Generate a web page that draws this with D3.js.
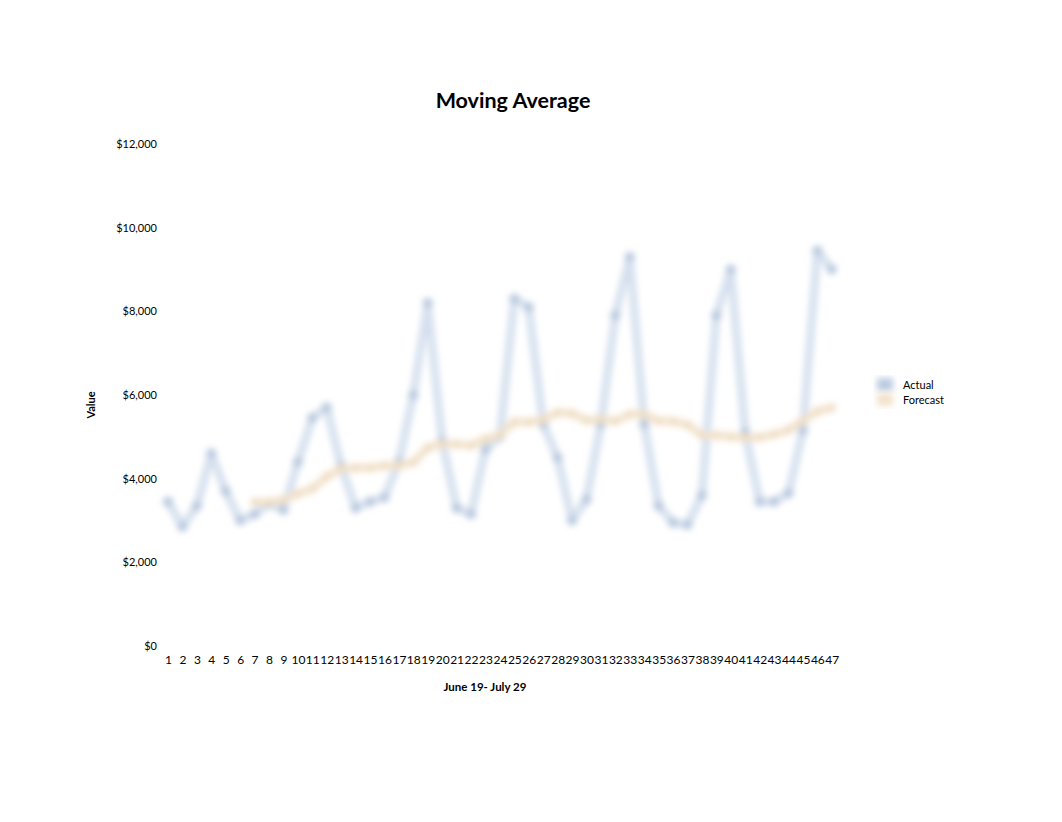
<!DOCTYPE html>
<html>
<head>
<meta charset="utf-8">
<script src="https://cdn.jsdelivr.net/npm/d3@7"></script>
<style>
  body { margin: 0; background: #fff; }
  text { font-family: Lato, "Open Sans", sans-serif; fill: #000; }
</style>
</head>
<body>
<svg id="chart" width="1062" height="822"></svg>
<script>
const categories = ["1","2","3","4","5","6","7","8","9","10","11","12","13","14","15","16","17","18","19","20","21","22","23","24","25","26","27","28","29","30","31","32","33","34","35","36","37","38","39","40","41","42","43","44","45","46","47"];
const actual = [3450,2850,3350,4600,3700,3000,3150,3400,3250,4400,5450,5700,4300,3300,3450,3550,4400,6000,8200,4900,3300,3150,4700,5000,8300,8100,5300,4500,3000,3500,5300,7900,9300,5300,3350,2950,2900,3600,7900,9000,5100,3450,3450,3650,5150,9450,9000];
const forecast = [null,null,null,null,null,null,3440,3440,3490,3640,3760,4050,4240,4260,4260,4310,4310,4390,4740,4830,4830,4790,4950,5040,5360,5350,5410,5580,5560,5390,5430,5370,5540,5540,5380,5370,5290,5040,5040,5000,4970,4990,5060,5160,5390,5610,5700];
const yTicks = [0,2000,4000,6000,8000,10000,12000];
const seriesNames = ["Actual","Forecast"];

const svg = d3.select("#chart");
const defs = svg.append("defs");
defs.append("filter").attr("id","blur").attr("x","-20%").attr("y","-20%").attr("width","140%").attr("height","140%")
  .append("feGaussianBlur").attr("stdDeviation", 3.2);
defs.append("filter").attr("id","blurAxis").attr("x","-20%").attr("y","-20%").attr("width","140%").attr("height","140%")
  .append("feGaussianBlur").attr("stdDeviation", 4);

const x = d3.scalePoint().domain(categories).range([160.8, 839]).padding(0.5);
const y = d3.scaleLinear().domain([0, 12000]).range([646, 144]);

// title
svg.append("text").attr("x", 513).attr("y", 108).attr("text-anchor","middle")
  .style("font-size","21.5px").style("font-weight","bold").text("Moving Average");

// blurred axis lines
svg.append("line").attr("x1", 173).attr("x2", 173).attr("y1", 140).attr("y2", 646)
  .attr("stroke","#efefef").attr("stroke-width", 12).attr("filter","url(#blurAxis)");
svg.append("line").attr("x1", 162).attr("x2", 838).attr("y1", 644).attr("y2", 644)
  .attr("stroke","#f0f0f0").attr("stroke-width", 10).attr("filter","url(#blurAxis)");

// y axis
const yAxis = d3.axisLeft(y).tickValues(yTicks).tickSize(0).tickPadding(0)
  .tickFormat(d => "$" + d3.format(",")(d));
const yg = svg.append("g").attr("transform","translate(157,0)").call(yAxis);
yg.select(".domain").remove();
yg.selectAll("text").style("font-size","11px").style("font-family","Lato, sans-serif").attr("fill","#000");

// x axis
const xAxis = d3.axisBottom(x).tickSize(0).tickPadding(0);
const xg = svg.append("g").attr("transform","translate(0,655)").call(xAxis);
xg.select(".domain").remove();
xg.selectAll("text").style("font-size","12px").style("font-family","Lato, sans-serif").attr("fill","#000").attr("dy","0.71em");

// axis titles
svg.append("text").attr("transform","translate(95,405) rotate(-90)").attr("text-anchor","middle")
  .style("font-size","11px").style("font-weight","bold").text("Value");
svg.append("text").attr("x", 485).attr("y", 691).attr("text-anchor","middle")
  .style("font-size","11.5px").style("font-weight","bold").text("June 19- July 29");

// lines
const lineGen = d3.line().defined(d => d.v != null).x(d => x(d.c)).y(d => y(d.v));
const actData = categories.map((c,i) => ({c, v: actual[i]}));
const fcData = categories.map((c,i) => ({c, v: forecast[i]}));

const gLines = svg.append("g").attr("filter","url(#blur)");
gLines.append("path").datum(actData).attr("d", lineGen).attr("fill","none")
  .attr("stroke","#d5e0ee").attr("stroke-width", 8).attr("stroke-linejoin","round");
gLines.selectAll("circle.act").data(actData).join("circle").attr("class","act")
  .attr("cx", d => x(d.c)).attr("cy", d => y(d.v)).attr("r", 5).attr("fill","#b7c7dd");
gLines.append("path").datum(fcData).attr("d", lineGen).attr("fill","none")
  .attr("stroke","#f3e4cf").attr("stroke-width", 8).attr("stroke-linejoin","round");
gLines.selectAll("circle.fc").data(fcData.filter(d => d.v != null)).join("circle").attr("class","fc")
  .attr("cx", d => x(d.c)).attr("cy", d => y(d.v)).attr("r", 4).attr("fill","#eedbc0");

// legend
const legColors = ["#bccbe0", "#f3e3cc"];
const lg = svg.append("g");
seriesNames.forEach((n, i) => {
  lg.append("rect").attr("x", 877).attr("y", 378 + i*15).attr("width", 16).attr("height", 13)
    .attr("fill", legColors[i]).attr("filter","url(#blur)");
  lg.append("text").attr("x", 903).attr("y", 389 + i*15).style("font-size","11px").text(n);
});
</script>
</body>
</html>
